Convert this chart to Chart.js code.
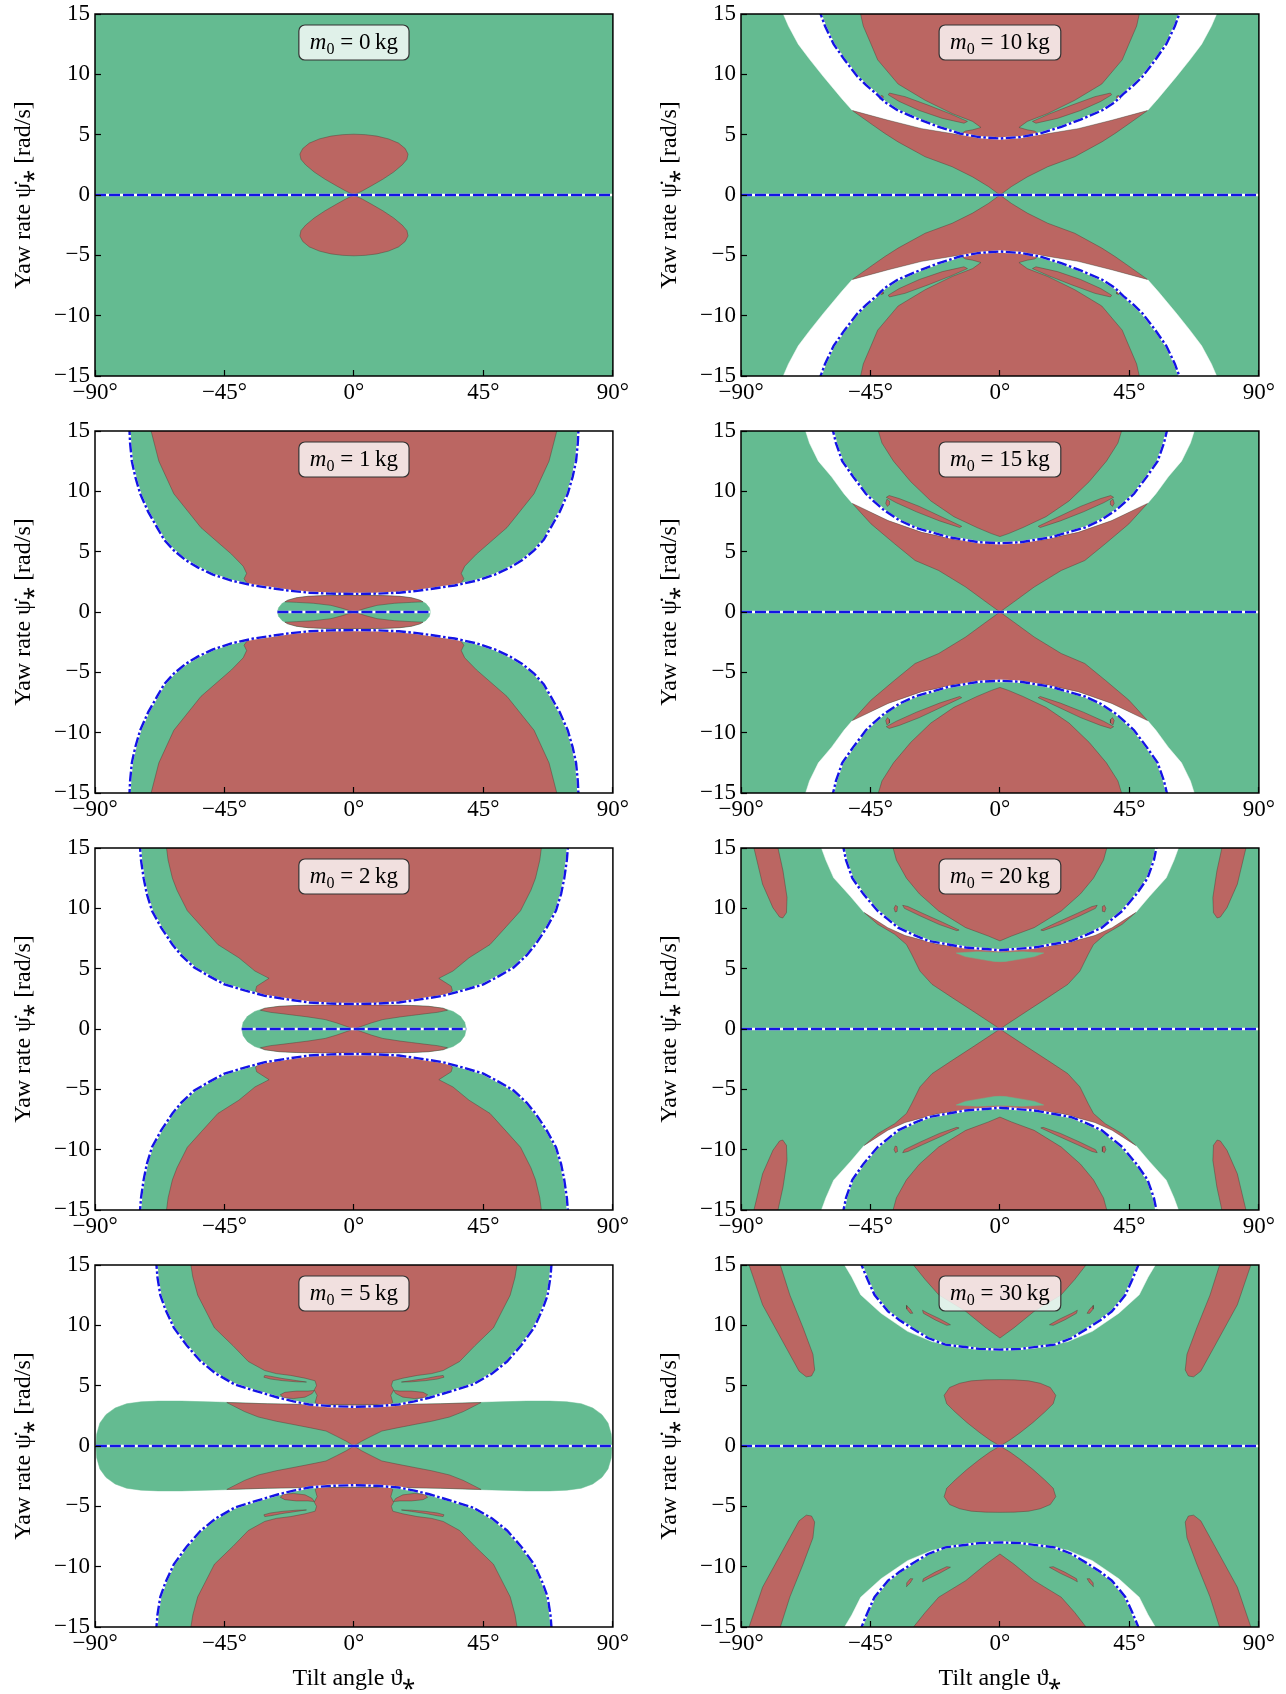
<!DOCTYPE html>
<html>
<head>
<meta charset="utf-8">
<script src="https://cdn.jsdelivr.net/npm/chart.js@4"></script>
<style>
  html, body { margin: 0; padding: 0; background: #fff; }
  body { width: 1286px; height: 1694px; position: relative; overflow: hidden; }
  .panel { position: absolute; width: 638px; }
</style>
</head>
<body>
<div class="panel" style="left:0;top:-11px;height:428px"><canvas id="c0"></canvas></div>
<div class="panel" style="left:0;top:406px;height:428px"><canvas id="c1"></canvas></div>
<div class="panel" style="left:0;top:823px;height:428px"><canvas id="c2"></canvas></div>
<div class="panel" style="left:0;top:1240px;height:454px"><canvas id="c3"></canvas></div>
<div class="panel" style="left:646px;top:-11px;height:428px"><canvas id="c4"></canvas></div>
<div class="panel" style="left:646px;top:406px;height:428px"><canvas id="c5"></canvas></div>
<div class="panel" style="left:646px;top:823px;height:428px"><canvas id="c6"></canvas></div>
<div class="panel" style="left:646px;top:1240px;height:454px"><canvas id="c7"></canvas></div>
<script>
// colours
const GREEN = '#64bb91';
const RED = '#bb6662';
const WHITE = '#ffffff';
const EDGE = 'rgba(70,45,40,0.55)';
const BLUE = '#1414e6';
const SERIF = 'Liberation Serif';

// axes
const xTicks = [-90, -45, 0, 45, 90];
const yTicks = [-15, -10, -5, 0, 5, 10, 15];

// region outlines, [tilt deg, yaw rate rad/s], upper right quarter
// m0 = 0 kg
const lobe0 = [[0,5.04],[4,5.0],[8,4.88],[12,4.65],[15.5,4.3],[17.8,3.85],[18.8,3.39],[18.4,2.95],[16.8,2.5],[13.8,1.9],[10,1.3],[6,0.75],[3,0.35],[0,0]];

// m0 = 1 kg
const curve1 = [[0,1.5],[8,1.52],[15.6,1.6],[22,1.75],[27.3,1.93],[35,2.2],[42.6,2.6],[49,3.1],[54.3,3.7],[58.5,4.3],[62.6,5.1],[66,6.0],[68.4,7.0],[71.5,8.3],[74.3,9.8],[76,11.2],[77.2,12.5],[77.8,14],[78.1,15.5]];
const red1 = [[0,1.5],[8,1.52],[15.6,1.6],[22,1.75],[27.3,1.93],[35,2.2],[37,2.35],[38.2,2.75],[37.3,3.2],[38.5,3.8],[42.6,4.8],[53.2,7.0],[62.6,9.8],[67.8,12.5],[70.5,15],[70.8,15.5]];
const lens1 = [[0,1.38],[10,1.36],[16,1.3],[20,1.18],[23,0.98],[25,0.7],[26.2,0.35],[26.6,0]];
const lensRed1 = [[0,0],[4,0.3],[8,0.55],[14,0.72],[20,0.8],[24,0.84],[23,0.98],[20,1.18],[16,1.3],[10,1.36],[0,1.38]];

// m0 = 2 kg
const curve2 = [[0,2.07],[8,2.1],[15.6,2.2],[23,2.45],[30.9,2.75],[38,3.2],[45,3.7],[50.5,4.4],[55.5,5.1],[60,6.1],[63.1,7.0],[67,8.4],[70.2,9.8],[72,11.2],[73.1,12.5],[74,14],[74.5,15.5]];
const red2 = [[0,2.07],[8,2.1],[15.6,2.2],[23,2.45],[30,2.72],[33,2.85],[34.2,3.2],[33.8,3.55],[29.5,4.2],[34.4,4.8],[40,5.9],[47.3,7.0],[53,8.5],[57.9,9.8],[61.5,11.5],[63.1,12.5],[64.6,14],[65.4,15.5]];
const lens2 = [[0,1.98],[12,1.98],[20,1.95],[26,1.88],[31,1.72],[34.5,1.45],[37,1.05],[38.5,0.55],[39,0]];
const lensRed2 = [[0,0],[3,0.25],[6,0.5],[10,0.78],[16,1.0],[20,1.12],[25,1.27],[29,1.38],[32.5,1.55],[31,1.72],[26,1.88],[20,1.95],[12,1.98],[0,1.98]];

// m0 = 5 kg
const curve5 = [[0,3.25],[8,3.3],[15.6,3.44],[21,3.7],[26.2,4.0],[34,4.55],[41.4,5.1],[48,6.0],[53.2,7.0],[58,8.3],[62.6,9.8],[65.5,11.3],[67.3,12.5],[68.3,14],[68.8,15.5]];
const red5 = [[0,3.25],[8,3.3],[12,3.38],[13.5,3.6],[12.8,4.2],[13.8,4.65],[13,5.0],[13.5,5.4],[17,5.62],[22,5.85],[27,6.0],[31,6.25],[36.7,7.0],[42,8.3],[48.5,9.8],[51.5,11.2],[54.3,12.5],[56,14],[57,15.5]];
const sliverA5 = [[16.5,5.3],[20,5.42],[25,5.6],[29,5.78],[31,5.85],[31.3,5.7],[29,5.55],[25,5.42],[20,5.32]];
const sliverB5 = [[13.8,4.6],[16,4.55],[20,4.55],[24,4.45],[25.6,4.25],[24.5,4.0],[21,3.93],[17,4.05],[14.5,4.35]];
const lens5 = [[0,3.44],[15,3.44],[30,3.5],[45,3.62],[60,3.72],[68,3.72],[74,3.66],[79,3.5],[83,3.15],[86.2,2.6],[88.3,1.9],[89.4,1.0],[89.7,0]];
const lensRed5 = [[0,0],[2.7,0.4],[6,0.8],[9.7,1.24],[15,1.5],[21.5,1.8],[27,2.05],[33.2,2.4],[38,2.85],[44.2,3.6],[30,3.5],[15,3.44],[0,3.44]];

// m0 = 10 kg
const curve10 = [[0,4.68],[7.2,4.8],[14,5.1],[21.3,5.65],[28,6.25],[35.4,7.0],[40,7.7],[43,8.4],[46.5,9.1],[49.5,9.8],[54,11.2],[57.8,12.5],[60.8,14],[63.1,15.5]];
const white10 = [[0,4.75],[7.2,4.82],[15.4,5.04],[27.2,5.5],[38.9,6.2],[51.3,7.0],[55,8.0],[61.3,9.8],[66,11.2],[70.1,12.5],[73.5,14],[76.2,15.5]];
const red10 = [[0,4.75],[7.2,4.82],[15.4,5.04],[27.2,5.5],[38.9,6.2],[51.3,7.0],[44.8,5.9],[40,5.1],[35.4,4.4],[26,3.17],[16.6,2.34],[9.5,1.5],[4,0.7],[0,0]];
const top10 = [[0,4.72],[7,4.85],[12,5.05],[13,5.15],[12,5.3],[9.5,5.4],[6.6,5.6],[9.5,6.1],[16.6,6.75],[26,7.85],[35.4,9.2],[42.5,11.2],[44.8,12.5],[47.5,14],[48.9,15.5]];
const sliver10 = [[11.3,6.1],[17,6.7],[25,7.45],[33,8.15],[38.4,8.45],[38.8,8.3],[35,7.75],[28,7.0],[20,6.35],[12.5,5.95]];
const dot10 = [[40.6,8.2],[41.3,8.25],[41.9,8.1],[41.8,7.95],[41.1,7.9],[40.6,8.05]];

// m0 = 15 kg
const curve15 = [[0,5.7],[7.2,5.78],[17.8,6.2],[29.5,7.0],[35,7.6],[40.1,8.4],[43.5,9.1],[46.6,9.8],[51,11.2],[54.8,12.5],[57,14],[58.5,15.5]];
const white15 = [[0,5.75],[7.2,5.8],[15.4,6.0],[27.2,6.6],[38.9,7.58],[51.3,9.0],[54.2,9.8],[58.5,11.2],[63.1,12.5],[66.2,14],[68.2,15.5]];
const red15 = [[0,5.75],[7.2,5.8],[15.4,6.0],[27.2,6.6],[38.9,7.58],[51.3,9.0],[44.8,7.3],[36.6,5.65],[29.5,4.27],[21.3,3.44],[11.9,2.07],[4.8,0.83],[0,0]];
const top15 = [[0,6.25],[3,6.5],[8,7.0],[16,7.9],[24,9.2],[31,10.8],[37,12.5],[41,14],[42.9,15.5]];
const sliver15 = [[13.3,7.1],[20,7.85],[28,8.75],[35,9.4],[38.5,9.65],[39.5,9.5],[36,9.05],[29,8.3],[21,7.55],[14,7.0]];
const dot15 = [[38.4,9.2],[39.3,9.35],[39.7,9.0],[39.1,8.75],[38.5,8.9]];

// m0 = 20 kg
const curve20 = [[0,6.53],[11.9,6.75],[24.8,7.3],[30,7.8],[35.4,8.4],[39,9.1],[42.5,9.78],[47.5,11.2],[51.3,12.5],[53.5,14],[54.8,15.5]];
const white20 = [[0,6.6],[9.5,6.7],[21.3,7.0],[33,7.75],[39,8.4],[47.2,9.65],[52,11.0],[57.8,12.53],[60.5,14],[62.8,15.5]];
const red20 = [[0,6.6],[9.5,6.7],[21.3,7.0],[33,7.75],[39,8.4],[47.2,9.65],[42.5,8.68],[36.6,7.85],[32.5,7.0],[30.7,6.2],[27.8,4.8],[23.6,3.7],[16.6,2.6],[9.5,1.5],[2.5,0.4],[0,0]];
const greenSliver20 = [[0,6.35],[8,6.4],[15.2,6.3],[12,6.0],[6,5.75],[2,5.6],[0,5.58]];
const top20 = [[0,7.3],[4,7.7],[11.9,8.4],[21.3,9.78],[28,11.2],[32.5,12.5],[36,14],[37.7,15.5]];
const sliver20 = [[14.2,8.2],[20,8.85],[27,9.6],[32,10.15],[33.8,10.25],[33.2,10.0],[28,9.4],[21,8.65],[15,8.15]];
const dot20 = [[35.6,10.15],[36.3,10.25],[36.8,10.0],[36.4,9.7],[35.8,9.75]];
const blob20 = [[-85.8,15.5],[-77.6,15.5],[-75.4,13.1],[-74,10.9],[-74.2,9.64],[-75.5,9.2],[-76.6,9.28],[-78.9,10.05],[-82.5,12.0],[-85.4,14.9]];

// m0 = 30 kg
const curve30 = [[0,7.99],[7.2,8.05],[19,8.4],[25,8.95],[30.7,9.78],[35,10.45],[38.9,11.16],[41.5,11.9],[43.6,12.53],[46,13.8],[48.1,15],[48.5,15.5]];
const white30 = [[0,7.95],[11.9,8.1],[23.6,8.65],[32.1,9.5],[41.3,11.0],[48.4,12.53],[51.5,14],[54,15],[54.5,15.5]];
const top30 = [[0,8.95],[4.8,9.78],[11.9,11.16],[21.3,12.53],[26,13.8],[29.9,15],[30.2,15.5]];
const sliver30 = [[17.2,10.05],[21,10.55],[25,11.0],[26.9,11.25],[26.6,11.0],[22.5,10.45],[18.5,10.0]];
const dot30 = [[30.3,11.0],[31.2,11.35],[32.5,11.65],[32.4,11.35],[31.2,11.0]];
const lobe30 = [[0,5.5],[5,5.48],[10,5.4],[14,5.2],[17.5,4.85],[19.4,4.2],[18.5,3.5],[15.5,2.8],[11.5,1.95],[7,1.1],[3.5,0.5],[0,0]];
const blob30 = [[-87.5,15.5],[-77,15.5],[-73,12.5],[-68.4,9.78],[-65,7.6],[-64.4,6.3],[-65.5,5.8],[-67.3,5.73],[-69.8,6.2],[-74.2,8.1],[-82.5,11.7],[-87.2,15]];

// helpers to mirror the quarter outlines
const toXY = pts => pts.map(([x, y]) => ({x, y}));
const flipY = pts => pts.map(([x, y]) => [x, -y]);
const flipX = pts => pts.map(([x, y]) => [-x, y]);
const mirrorHalf = half => half.concat(half.slice().reverse().map(([x, y]) => [-x, y]));
const wholeCurve = half => half.slice(1).reverse().map(([x, y]) => [-x, y]).concat(half);
const capTop = half => half.concat([[half[half.length - 1][0], 16], [0, 16]]);
const wholeLens = q => mirrorHalf(q.concat(q.slice(0, -1).reverse().map(([x, y]) => [x, -y])));
const closed = pts => pts.concat([pts[0]]);

function area(pts, color) {
  const red = color === RED;
  return {
    data: toXY(pts), showLine: true, fill: 'shape', tension: 0,
    backgroundColor: color, borderColor: red ? EDGE : color,
    borderWidth: red ? 0.7 : 0.5, pointRadius: 0
  };
}
function stroke(pts, color, dash) {
  return {
    data: toXY(pts), showLine: true, fill: false, tension: 0,
    borderColor: color, borderWidth: 2.4, borderDash: dash || [], pointRadius: 0
  };
}

const panels = [
  {id: 'c0', mass: 0, bottom: false, layers: [['bg', GREEN], ['sym', RED, lobe0], ['dash', 90]]},
  {id: 'c1', mass: 1, bottom: false, layers: [['cap', GREEN, curve1], ['cap', RED, red1], ['lens', GREEN, lens1], ['sym', RED, lensRed1], ['curve', curve1], ['dash', 26.6]]},
  {id: 'c2', mass: 2, bottom: false, layers: [['cap', GREEN, curve2], ['cap', RED, red2], ['lens', GREEN, lens2], ['sym', RED, lensRed2], ['curve', curve2], ['dash', 39]]},
  {id: 'c3', mass: 5, bottom: true, layers: [['cap', GREEN, curve5], ['cap', RED, red5], ['quad', RED, sliverA5], ['quad', RED, sliverB5], ['lens', GREEN, lens5], ['sym', RED, lensRed5], ['curve', curve5], ['dash', 89.7]]},
  {id: 'c4', mass: 10, bottom: false, layers: [['bg', GREEN], ['cap', WHITE, white10], ['cap', GREEN, curve10], ['sym', RED, red10], ['cap', RED, top10], ['quad', RED, sliver10], ['quad', RED, dot10], ['curve', curve10], ['dash', 90]]},
  {id: 'c5', mass: 15, bottom: false, layers: [['bg', GREEN], ['cap', WHITE, white15], ['cap', GREEN, curve15], ['sym', RED, red15], ['cap', RED, top15], ['quad', RED, sliver15], ['quad', RED, dot15], ['curve', curve15], ['dash', 90]]},
  {id: 'c6', mass: 20, bottom: false, layers: [['bg', GREEN], ['cap', WHITE, white20], ['cap', GREEN, curve20], ['sym', RED, red20], ['sym', GREEN, greenSliver20], ['cap', RED, top20], ['quad', RED, sliver20], ['quad', RED, dot20], ['quad', RED, blob20], ['curve', curve20], ['dash', 90]]},
  {id: 'c7', mass: 30, bottom: true, layers: [['bg', GREEN], ['cap', WHITE, white30], ['cap', GREEN, curve30], ['cap', RED, top30], ['quad', RED, sliver30], ['quad', RED, dot30], ['sym', RED, lobe30], ['quad', RED, blob30], ['curve', curve30], ['dash', 90]]}
];

function buildDatasets(layers) {
  const out = [];
  const lines = [];
  layers.forEach(([kind, a, b]) => {
    if (kind === 'bg') out.push(area([[-95,-16],[95,-16],[95,16],[-95,16],[-95,-16]], a));
    if (kind === 'sym') { out.push(area(mirrorHalf(b), a)); out.push(area(mirrorHalf(flipY(b)), a)); }
    if (kind === 'cap') { out.push(area(mirrorHalf(capTop(b)), a)); out.push(area(mirrorHalf(flipY(capTop(b))), a)); }
    if (kind === 'lens') out.push(area(wholeLens(b), a));
    if (kind === 'quad') {
      const p = closed(b);
      [p, flipX(p), flipY(p), flipX(flipY(p))].forEach(q => out.push(area(q, a)));
    }
    if (kind === 'curve') {
      const c = wholeCurve(a);
      lines.push(stroke(c, WHITE), stroke(flipY(c), WHITE));
      lines.push(stroke(c, BLUE, [10, 2.5, 2.5, 2.5]), stroke(flipY(c), BLUE, [10, 2.5, 2.5, 2.5]));
    }
    if (kind === 'dash') {
      lines.push(stroke([[-a, 0], [a, 0]], WHITE));
      lines.push(stroke([[-a, 0], [a, 0]], BLUE, [11, 3]));
    }
  });
  const all = out.concat(lines);
  // first entry lowest: give it the highest order
  all.forEach((d, i) => { d.order = all.length - i; });
  return all;
}

// frame and m0 label box
const massLabel = {
  id: 'massLabel',
  afterDatasetsDraw(chart, args, opts) {
    const {ctx, chartArea: a} = chart;
    ctx.save();
    ctx.strokeStyle = '#000';
    ctx.lineWidth = 1.5;
    ctx.strokeRect(a.left, a.top, a.right - a.left, a.bottom - a.top);
    const parts = [
      {font: 'italic 23px "Liberation Serif"', text: 'm', dy: 0},
      {font: '16px "Liberation Serif"', text: '0', dy: 5},
      {font: '23px "Liberation Serif"', text: ' = ' + opts.mass + '\u2009kg', dy: 0}
    ];
    let w = 0;
    parts.forEach(p => { ctx.font = p.font; p.w = ctx.measureText(p.text).width; w += p.w; });
    const bw = w + 22, bh = 35, r = 6;
    const bx = (a.left + a.right) / 2 - bw / 2, by = a.top + 11;
    ctx.beginPath();
    ctx.moveTo(bx + r, by);
    ctx.arcTo(bx + bw, by, bx + bw, by + bh, r);
    ctx.arcTo(bx + bw, by + bh, bx, by + bh, r);
    ctx.arcTo(bx, by + bh, bx, by, r);
    ctx.arcTo(bx, by, bx + bw, by, r);
    ctx.closePath();
    ctx.fillStyle = 'rgba(255,255,255,0.8)';
    ctx.fill();
    ctx.strokeStyle = '#333';
    ctx.lineWidth = 1.2;
    ctx.stroke();
    ctx.fillStyle = '#000';
    ctx.textBaseline = 'alphabetic';
    let x = bx + 11;
    parts.forEach(p => { ctx.font = p.font; ctx.fillText(p.text, x, by + 24 + p.dy); x += p.w; });
    ctx.restore();
  }
};
Chart.register(massLabel);
Chart.defaults.color = '#000';

const minus = v => (v < 0 ? '\u2212' : '') + Math.abs(v);

panels.forEach(p => {
  new Chart(document.getElementById(p.id), {
    type: 'scatter',
    data: {datasets: buildDatasets(p.layers)},
    options: {
      responsive: true,
      maintainAspectRatio: false,
      animation: false,
      events: [],
      layout: {padding: {top: 25, right: 24, left: 0, bottom: 0}},
      plugins: {legend: {display: false}, tooltip: {enabled: false}, massLabel: {mass: p.mass}},
      scales: {
        x: {
          type: 'linear', min: -90, max: 90,
          afterBuildTicks: s => { s.ticks = xTicks.map(v => ({value: v})); },
          afterFit: s => { s.height = p.bottom ? 67 : 41; },
          grid: {drawOnChartArea: false, tickLength: -6, tickWidth: 1.2, tickColor: '#000', z: 1},
          border: {display: false},
          ticks: {font: {family: SERIF, size: 23}, padding: 9, maxRotation: 0, autoSkip: false, callback: v => minus(v) + '\u00b0'},
          title: {display: p.bottom, text: 'Tilt angle \u03d1\u204e', font: {family: SERIF, size: 24}, padding: {top: 0, bottom: 1}}
        },
        y: {
          type: 'linear', min: -15, max: 15,
          afterBuildTicks: s => { s.ticks = yTicks.map(v => ({value: v})); },
          afterFit: s => { s.width = 95; },
          grid: {drawOnChartArea: false, tickLength: -6, tickWidth: 1.2, tickColor: '#000', z: 1},
          border: {display: false},
          ticks: {font: {family: SERIF, size: 23}, padding: 11, callback: v => minus(v)},
          title: {display: true, text: 'Yaw rate \u03c8\u0307\u204e [rad/s]', font: {family: SERIF, size: 24}, padding: {top: 9}}
        }
      }
    }
  });
});
</script>
</body>
</html>
